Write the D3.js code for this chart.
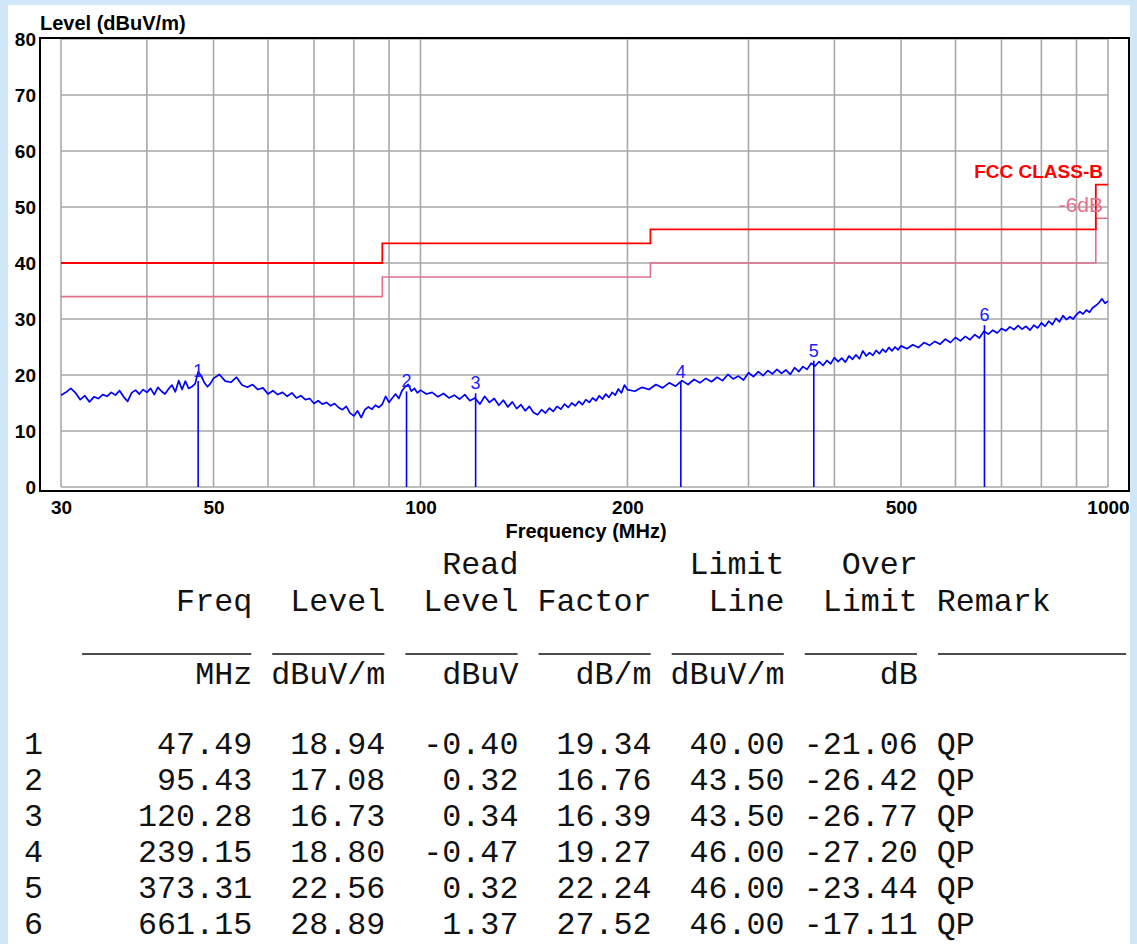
<!DOCTYPE html>
<html>
<head>
<meta charset="utf-8">
<script src="https://cdn.jsdelivr.net/npm/d3@7"></script>
<style>
  html, body { margin: 0; padding: 0; background: #cfe7f7; }
  svg { display: block; }
</style>
</head>
<body>
<svg id="chart" width="1137" height="944"></svg>
<script>
// ---------------- data ----------------
const yTicks = [0, 10, 20, 30, 40, 50, 60, 70, 80];
const xTickLabels = [30, 50, 100, 200, 500, 1000];
const xGrid = [30, 40, 50, 60, 70, 80, 90, 100, 200, 300, 400, 500, 600, 700, 800, 900, 1000];

// limit steps (start frequencies of each segment + end)
const limitFreq = [30, 88, 216, 960, 1000];
const fccLimit = [40, 43.5, 46, 54, 54];
const marginLimit = [34, 37.5, 40, 48, 48];

// measured trace (MHz, dBuV/m)
const traceFreq = [
  30, 30.5, 31, 31.5, 32, 32.5, 33, 33.5, 34, 34.5, 35, 35.5, 36, 36.5, 37, 37.5, 38, 38.5, 39, 39.5,
  40, 40.5, 41, 41.5, 42, 42.5, 43, 43.5, 44, 44.5, 45, 45.5, 46, 46.5, 47, 47.5, 48, 48.5, 49, 49.5, 50,
  51, 52, 53, 54, 55, 56, 57, 58, 59, 60, 61, 62, 63, 64, 65, 66, 67, 68, 69, 70,
  71, 72, 73, 74, 75, 76, 77, 78, 79, 80, 81, 82, 83, 84, 85, 86, 87, 88, 89, 90,
  91, 92, 93, 94, 95, 96, 97, 98, 99, 100,
  102, 104, 106, 108, 110, 112, 114, 116, 118, 120, 122, 124, 126, 128, 130, 132, 134, 136, 138, 140,
  142, 144, 146, 148, 150, 152, 154, 156, 158, 160, 162, 164, 166, 168, 170, 172, 174, 176, 178, 180,
  182, 184, 186, 188, 190, 192, 194, 196, 198, 200,
  205, 210, 215, 220, 225, 230, 235, 240, 245, 250, 255, 260, 265, 270, 275, 280, 285, 290, 295, 300,
  305, 310, 315, 320, 325, 330, 335, 340, 345, 350, 355, 360, 365, 370, 375, 380, 385, 390, 395, 400,
  405, 410, 415, 420, 425, 430, 435, 440, 445, 450, 455, 460, 465, 470, 475, 480, 485, 490, 495, 500,
  510, 520, 530, 540, 550, 560, 570, 580, 590, 600, 610, 620, 630, 640, 650, 660, 670, 680, 690, 700,
  710, 720, 730, 740, 750, 760, 770, 780, 790, 800, 810, 820, 830, 840, 850, 860, 870, 880, 890, 900,
  910, 920, 930, 940, 950, 960, 970, 980, 990, 1000
];
const traceLevel = [
  16.4, 16.9, 17.6, 16.8, 15.6, 16.3, 15.2, 16.1, 15.8, 16.5, 16.2, 16.9, 16.4, 17.2, 16.1, 15.3, 16.8, 17.3, 16.6, 17.4,
  16.9, 17.6, 16.5, 17.8, 17.1, 16.6, 17.5, 18.2, 17.0, 19.0, 17.4, 18.9, 17.6, 17.9, 18.4, 20.6, 19.8, 18.6, 17.9, 18.5, 19.4,
  20.1, 18.9, 18.7, 19.6, 18.2, 17.8, 18.3, 17.4, 17.7, 16.6, 17.2, 16.5, 16.9, 16.2, 16.8, 15.9, 16.3, 15.6, 15.8, 14.9,
  15.4, 14.8, 15.1, 14.5, 14.9, 14.2, 13.8, 14.4, 13.2, 12.7, 13.6, 12.4, 13.8, 14.3, 13.9, 14.6, 14.2, 14.8, 16.2, 15.1,
  15.9, 16.6, 15.8, 17.2, 17.9, 18.3, 17.1, 17.6, 16.8, 17.3,
  16.6, 16.9, 16.1, 16.7, 15.9, 16.4, 15.7, 16.5, 15.4, 15.9, 14.8, 16.2, 15.1, 15.8, 14.6, 15.5, 14.3, 15.2, 14.0, 14.7,
  13.6, 14.4, 13.3, 12.9, 13.8, 13.2, 14.1, 13.5, 14.4, 13.9, 14.8, 14.2, 15.0, 14.5, 15.3, 14.7, 15.6, 15.1, 15.9, 15.4,
  16.3, 15.7, 16.6, 16.0, 16.9, 16.4, 17.5, 16.8, 18.2, 17.4,
  17.1, 17.8, 17.4, 18.3, 17.7, 18.6, 18.0, 19.0, 18.3, 19.2, 18.6, 19.4, 18.8, 19.6, 19.0, 20.1, 19.3, 19.8, 19.1, 20.4,
  19.7, 20.6, 19.9, 20.8, 20.2, 21.0, 20.3, 20.9, 20.1, 21.3, 20.6, 21.5, 21.0, 22.1, 21.6, 22.4, 21.7, 22.6, 22.0, 23.1,
  22.4, 23.0, 22.3, 23.4, 22.8, 23.6, 22.9, 24.3, 23.4, 24.0, 23.5, 24.4, 23.8, 24.6, 24.1, 24.9, 24.3, 25.0, 24.5, 25.2,
  24.7, 25.4, 24.9, 25.8, 25.3, 26.0, 25.5, 26.4, 25.8, 26.7, 26.1, 26.9, 26.3, 27.2, 26.6, 27.8, 27.3, 28.0, 27.5, 28.3,
  27.9, 28.6, 28.1, 28.8, 28.2, 28.7, 28.0, 28.9, 28.4, 29.3, 28.7, 29.6, 29.0, 30.1, 29.5, 30.6, 29.9, 30.4, 30.0, 30.8,
  31.3, 30.9, 31.6, 31.2, 32.0, 32.4, 32.9, 33.6, 32.8, 33.2
];

// marker table
const markerNo = [1, 2, 3, 4, 5, 6];
const markerFreq = [47.49, 95.43, 120.28, 239.15, 373.31, 661.15];
const markerLevel = [18.94, 17.08, 16.73, 18.80, 22.56, 28.89];
const readLevel = [-0.40, 0.32, 0.34, -0.47, 0.32, 1.37];
const factor = [19.34, 16.76, 16.39, 19.27, 22.24, 27.52];
const limitLine = [40.00, 43.50, 43.50, 46.00, 46.00, 46.00];
const overLimit = [-21.06, -26.42, -26.77, -27.20, -23.44, -17.11];
const remark = ["QP", "QP", "QP", "QP", "QP", "QP"];

const headerLine1 = ["", "", "Read", "", "Limit", "Over"];
const headerLine2 = ["Freq", "Level", "Level", "Factor", "Line", "Limit", "Remark"];
const unitLine = ["MHz", "dBuV/m", "dBuV", "dB/m", "dBuV/m", "dB"];

// ---------------- drawing ----------------
const svg = d3.select("#chart");
const SANS = "Liberation Sans, Arial, sans-serif";

// white panel
svg.append("rect").attr("x", 8).attr("y", 5).attr("width", 1122).attr("height", 939).attr("fill", "#ffffff");

const x = d3.scaleLog().domain([30, 1000]).range([61, 1108]);
const y = d3.scaleLinear().domain([0, 80]).range([487, 39]);

// grid
const grid = svg.append("g").attr("stroke", "#a9a9a9").attr("stroke-width", 1.6);
grid.selectAll("line.v").data(xGrid).join("line")
  .attr("x1", d => x(d)).attr("x2", d => x(d))
  .attr("y1", y(0)).attr("y2", y(80));
grid.selectAll("line.h").data(yTicks).join("line")
  .attr("x1", x(30)).attr("x2", x(1000))
  .attr("y1", d => y(d)).attr("y2", d => y(d));

// frame
svg.append("rect").attr("x", 40).attr("y", 38).attr("width", 1089).attr("height", 453)
  .attr("fill", "none").attr("stroke", "#000").attr("stroke-width", 2);

// axes
const xAxis = d3.axisBottom(x).tickValues(xTickLabels).tickFormat(d3.format("d")).tickSize(0).tickPadding(14);
const gx = svg.append("g").attr("transform", "translate(0,487)").call(xAxis);
gx.select(".domain").remove();
gx.selectAll("text").attr("font-family", SANS)
  .attr("font-weight", "bold").attr("font-size", 19).attr("fill", "#000");

const yAxis = d3.axisLeft(y).tickValues(yTicks).tickSize(0).tickPadding(4);
const gy = svg.append("g").attr("transform", "translate(40,0)").call(yAxis);
gy.select(".domain").remove();
gy.selectAll("text").attr("font-family", SANS)
  .attr("font-weight", "bold").attr("font-size", 19).attr("fill", "#000");

svg.append("text").attr("x", 40).attr("y", 30)
  .attr("font-family", SANS).attr("font-weight", "bold").attr("font-size", 20)
  .text("Level (dBuV/m)");
svg.append("text").attr("x", 586).attr("y", 538).attr("text-anchor", "middle")
  .attr("font-family", SANS).attr("font-weight", "bold").attr("font-size", 20)
  .text("Frequency (MHz)");

// limit lines
const stepLine = d3.line().x(d => x(d[0])).y(d => y(d[1])).curve(d3.curveStepAfter);
svg.append("path").attr("d", stepLine(limitFreq.map((f, i) => [f, marginLimit[i]])))
  .attr("fill", "none").attr("stroke", "#e0708c").attr("stroke-width", 1.6);
svg.append("path").attr("d", stepLine(limitFreq.map((f, i) => [f, fccLimit[i]])))
  .attr("fill", "none").attr("stroke", "#ff0000").attr("stroke-width", 1.8);

svg.append("text").attr("x", 1103).attr("y", 178).attr("text-anchor", "end")
  .attr("font-family", SANS).attr("font-weight", "bold").attr("font-size", 19)
  .attr("fill", "#ff0000").text("FCC CLASS-B");
svg.append("text").attr("x", 1103).attr("y", 212).attr("text-anchor", "end")
  .attr("font-family", SANS).attr("font-size", 21)
  .attr("fill", "#e0708c").text("-6dB");

// trace
const traceLine = d3.line().x(d => x(d[0])).y(d => y(d[1]));
svg.append("path").attr("d", traceLine(traceFreq.map((f, i) => [f, traceLevel[i]])))
  .attr("fill", "none").attr("stroke", "#0000ff").attr("stroke-width", 1.7).attr("stroke-linejoin", "round");

// markers
const mk = svg.append("g");
mk.selectAll("line").data(markerNo).join("line")
  .attr("x1", (d, i) => x(markerFreq[i])).attr("x2", (d, i) => x(markerFreq[i]))
  .attr("y1", (d, i) => y(markerLevel[i])).attr("y2", y(0))
  .attr("stroke", "#0000ff").attr("stroke-width", 1.6);
mk.selectAll("text").data(markerNo).join("text")
  .attr("x", (d, i) => x(markerFreq[i])).attr("y", (d, i) => y(markerLevel[i]) - 4)
  .attr("text-anchor", "middle")
  .attr("font-family", SANS).attr("font-size", 18)
  .attr("fill", "#2020ff").text(d => d);

// ---------------- table ----------------
const cw = 19.02, tx = 24, fs = 31.7;
const NB = "\u00A0";
const pad = (s, n) => String(s).padStart(n, NB);
const fmt = v => v.toFixed(2);
const line1 = pad("", 12) + pad(headerLine1[1], 7) + pad(headerLine1[2], 7) + pad(headerLine1[3], 7) +
  pad(headerLine1[4], 7) + pad(headerLine1[5], 7);
const line2 = pad(headerLine2[0], 12) + pad(headerLine2[1], 7) + pad(headerLine2[2], 7) +
  pad(headerLine2[3], 7) + pad(headerLine2[4], 7) + pad(headerLine2[5], 7) + NB + headerLine2[6];
const line3 = pad(unitLine[0], 12) + unitLine.slice(1).map(u => pad(u, 7)).join("");
const rows = markerNo.map((n, i) =>
  String(n) + pad(fmt(markerFreq[i]), 11) + pad(fmt(markerLevel[i]), 7) + pad(fmt(readLevel[i]), 7) +
  pad(fmt(factor[i]), 7) + pad(fmt(limitLine[i]), 7) + pad(fmt(overLimit[i]), 7) + NB + remark[i]);

const tg = svg.append("g").attr("font-family", "Liberation Mono, Courier New, monospace")
  .attr("font-size", fs).attr("fill", "#111");
tg.append("text").attr("x", tx).attr("y", 574).text(line1);
tg.append("text").attr("x", tx).attr("y", 611).text(line2);
tg.append("text").attr("x", tx).attr("y", 684).text(line3);
tg.selectAll("text.row").data(rows).join("text").attr("class", "row")
  .attr("x", tx).attr("y", (d, i) => 754 + i * 36).text(d => d);

// underline segments (column spans)
const ulCols = [[3, 12], [13, 19], [20, 26], [27, 33], [34, 40], [41, 47], [48, 58]];
svg.append("g").selectAll("line").data(ulCols).join("line")
  .attr("x1", d => tx + d[0] * cw + 1).attr("x2", d => tx + d[1] * cw - 1)
  .attr("y1", 654).attr("y2", 654).attr("stroke", "#111").attr("stroke-width", 1.6);
</script>
</body>
</html>
